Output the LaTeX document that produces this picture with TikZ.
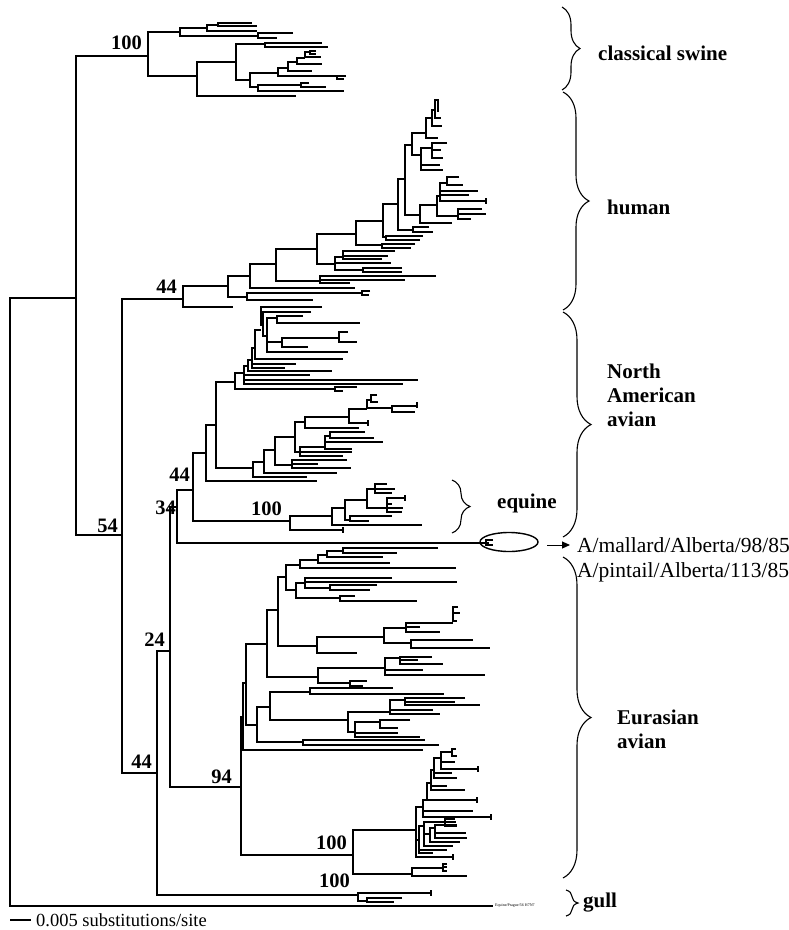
\documentclass[tikz,border=0pt]{standalone}
\usepackage{fontspec}
\setmainfont{Liberation Serif}
\usetikzlibrary{decorations.pathreplacing,arrows.meta,shapes.geometric}
\newcommand\brn[5]{\draw[br] (#3,#2) -| (#1,#4) -- (#5,#4);}
\newcommand\brh[3]{\draw[br] (#1,#2) -- (#3,#2);}
\newcommand\brt[2]{\draw[br] (#1,#2-3) -- (#1,#2+3);}
\begin{document}
\begin{tikzpicture}[x=1pt,y=-1pt,
  br/.style={line width=1.05pt},
  lab/.style={font=\fontsize{21}{24}\selectfont\bfseries, inner sep=0pt},
  bs/.style={font=\fontsize{20.5}{22}\selectfont\bfseries, inner sep=0pt, anchor=east},
  brc/.style={decorate, decoration={brace, amplitude=#1}, line width=1.1pt}]
\useasboundingbox (0,0) rectangle (789,930);
% root
\draw[br] (76,298) -- (10,298) -- (10,906) -- (493,906);
\brn{76}{56}{148}{535}{122}
\brn{122}{299}{183}{773}{157}
% classical swine
\brn{148}{32}{180}{76}{197}
\brn{180}{28}{207}{36}{258}
\brn{207}{25}{218}{31}{257}
\brn{218}{23}{252}{26}{257}
\brn{258}{33}{293}{38}{277}
\brn{197}{62}{236}{96}{296}
\brn{236}{44}{265}{80}{250}
\brn{265}{43}{322}{47}{328}
\brn{250}{73}{278}{87}{258}
\brn{278}{68}{288}{76}{337}
\brn{337}{76}{346}{79}{344}
\brn{288}{62}{297}{71}{312}
\brn{297}{58}{305}{64}{322}
\brn{305}{52}{310}{57}{321}
\brn{310}{51}{316}{54}{316}
\brn{258}{85}{301}{91}{344}
\brn{301}{83}{309}{87}{326}
% human
\brn{183}{286}{228}{307}{233}
\brn{228}{276}{250}{297}{247}
\brn{247}{293}{362}{300}{313}
\brn{362}{291}{370}{295}{369}
\brn{250}{264}{276}{288}{355}
\brn{276}{249}{317}{281}{320}
\brn{320}{276}{436}{283}{350}
\brh{320}{280}{405}
\brn{317}{234}{356}{264}{335}
\brn{335}{257}{343}{270}{363}
\brh{335}{263}{391}
\brn{343}{251}{395}{259}{382}
\brh{343}{256}{388}
\brn{363}{268}{402}{272}{402}
\brn{356}{221}{383}{245}{382}
\brn{382}{244}{415}{248}{411}
\brn{383}{204}{398}{237}{386}
\brn{386}{236}{423}{240}{420}
\brn{398}{179}{405}{230}{413}
\brn{413}{227}{429}{232}{433}
\brn{405}{145}{412}{215}{420}
\brn{420}{205}{437}{223}{452}
\brn{437}{196}{440}{216}{458}
\brn{458}{209}{482}{219}{471}
\brh{458}{214}{486}
\brn{440}{183}{447}{201}{486}
\brt{486}{201}
\brh{440}{195}{469}
\brh{440}{191}{478}
\brn{447}{177}{459}{185}{463}
\brn{412}{133}{426}{155}{421}
\brn{421}{148}{432}{170}{443}
\brh{421}{165}{440}
\brn{432}{143}{447}{158}{443}
\brh{432}{150}{441}
\brn{426}{118}{432}{138}{438}
\brn{432}{110}{435}{126}{442}
\brn{435}{100}{438}{118}{441}
\draw[br] (438,99) -- (438,112);
% North American avian
\brn{193}{453}{206}{521}{290}
\brn{206}{425}{216}{481}{317}
\brn{216}{382}{235}{468}{253}
\brn{235}{373}{244}{389}{335}
\brn{335}{387}{357}{391}{343}
\brn{244}{366}{248}{384}{403}
\brh{244}{380}{418}
\brh{244}{375}{310}
\brn{248}{360}{252}{371}{332}
\brn{252}{348}{255}{368}{285}
\brh{252}{364}{296}
\brn{255}{330}{261}{359}{343}
\brn{261}{307}{322}{325}{263}
\brn{263}{312}{311}{336}{267}
\brn{267}{318}{277}{352}{348}
\brh{267}{342}{282}
\brn{277}{316}{303}{323}{360}
\brn{282}{338}{339}{347}{308}
\brn{339}{332}{348}{342}{357}
\brn{253}{462}{264}{477}{307}
\brn{264}{450}{275}{473}{337}
\brn{275}{437}{295}{465}{292}
\brn{292}{460}{347}{468}{351}
\brh{292}{464}{318}
\brn{295}{422}{305}{452}{300}
\brn{300}{447}{325}{456}{343}
\brh{300}{452}{352}
\brn{325}{436}{330}{449}{352}
\brh{325}{442}{383}
\brn{330}{432}{365}{438}{374}
\brn{305}{417}{349}{428}{359}
\brn{349}{409}{367}{423}{368}
\brt{368}{423}
\brn{367}{400}{371}{408}{392}
\brn{371}{395}{377}{402}{378}
\brn{392}{406}{417}{412}{415}
\brt{417}{405}
% equine
\brn{290}{516}{332}{530}{343}
\brt{343}{530}
\brn{332}{508}{345}{525}{422}
\brn{345}{500}{367}{520}{350}
\brn{350}{516}{392}{521}{369}
\brn{367}{489}{375}{508}{387}
\brn{375}{484}{387}{493}{392}
\brh{375}{489}{395}
\brn{387}{498}{405}{512}{402}
\brh{387}{504}{392}
\brh{387}{508}{403}
\brt{405}{498}
% deep nodes
\brn{157}{651}{170}{895}{358}
\brn{170}{507}{177}{787}{241}
\brn{177}{490}{193}{543}{489}
\brn{486}{540}{493}{545}{493}
% Eurasian avian
\brn{241}{717}{243}{855}{353}
\brn{243}{683}{246}{750}{423}
\brn{246}{644}{267}{725}{257}
\brn{257}{707}{270}{742}{303}
\brn{303}{740}{425}{745}{439}
\brn{270}{692}{310}{720}{348}
\brn{310}{688}{393}{694}{444}
\brn{348}{712}{390}{732}{355}
\brn{390}{700}{405}{714}{440}
\brh{390}{710}{433}
\brn{405}{698}{465}{705}{480}
\brh{405}{702}{455}
\brn{355}{722}{380}{737}{420}
\brn{380}{720}{410}{728}{398}
\brh{355}{733}{398}
\brn{267}{610}{278}{677}{318}
\brn{318}{668}{385}{683}{350}
\brn{350}{681}{367}{686}{363}
\brn{385}{658}{400}{675}{485}
\brh{385}{670}{423}
\brn{400}{657}{432}{664}{443}
\brh{400}{660}{418}
\brn{278}{577}{286}{646}{317}
\brn{317}{637}{384}{653}{357}
\brn{384}{628}{406}{643}{411}
\brn{411}{640}{473}{648}{490}
\brn{406}{623}{453}{632}{440}
\brh{406}{627}{420}
\brn{453}{607}{458}{621}{457}
\brh{453}{613}{460}
\brn{286}{565}{300}{590}{296}
\brn{296}{583}{305}{598}{340}
\brn{305}{578}{392}{588}{330}
\brh{305}{582}{457}
\brn{330}{585}{377}{590}{370}
\brn{340}{596}{355}{601}{417}
\brn{300}{560}{318}{568}{456}
\brn{318}{555}{327}{563}{390}
\brn{327}{551}{343}{557}{383}
\brn{343}{548}{438}{553}{397}
% Eurasian 100 clade
\brn{353}{830}{416}{874}{412}
\brn{412}{868}{443}{876}{467}
\brn{443}{864}{447}{871}{447}
\brh{443}{867}{447}
\brn{416}{807}{423}{857}{453}
\brt{453}{857}
\brh{416}{840}{419}
\brn{419}{826}{424}{853}{433}
\brh{419}{850}{447}
\brn{424}{822}{445}{846}{453}
\brh{424}{834}{430}
\brn{430}{828}{435}{842}{460}
\brn{435}{825}{457}{838}{467}
\brh{435}{833}{466}
\brn{445}{819}{455}{826}{457}
\brh{445}{822}{456}
\brn{423}{800}{427}{817}{491}
\brh{423}{811}{473}
\brt{491}{817}
\brn{427}{783}{431}{800}{477}
\brt{477}{800}
\brn{431}{770}{434}{790}{465}
\brh{431}{786}{447}
\brn{434}{758}{441}{778}{457}
\brh{434}{773}{452}
\brn{441}{752}{452}{769}{478}
\brt{478}{769}
\brh{441}{762}{455}
\brn{452}{749}{456}{756}{457}
% gull
\brn{358}{893}{431}{901}{367}
\brt{431}{893}
\brn{367}{898}{402}{902}{394}
% ellipse, arrow, strain names
\node[draw, ellipse, minimum width=58pt, minimum height=19pt, line width=1.4pt, inner sep=0pt] (ell) at (509,542) {};
\node[anchor=west, font=\fontsize{21.5}{25}\selectfont, align=left, inner sep=0pt] (strains) at (577,560) {A/mallard/Alberta/98/85\\A/pintail/Alberta/113/85};
\coordinate (arrs) at (547,545);
\coordinate (arre) at (570,545);
\draw[line width=1pt, -{Triangle[length=8pt,width=7pt]}] (arrs) -- (arre);
% braces
\draw[brc=18] (562,7) -- (562,90);
\draw[brc=26] (563,92) -- (563,310);
\draw[brc=28] (563,312) -- (563,537);
\draw[brc=18] (452,480) -- (452,533);
\draw[brc=28] (563,557) -- (563,878);
\draw[brc=12] (566,890) -- (566,916);
% clade labels
\node[lab, anchor=west] (cs) at (598,53) {classical swine};
\node[lab, anchor=west] (hu) at (607,207) {human};
\node[lab, anchor=west, align=left] (na) at (607,395) {North\\American\\avian};
\node[lab, anchor=west] (eq) at (497,503) {equine};
\node[lab, anchor=west, align=left] (eu) at (617,729) {Eurasian\\avian};
\node[lab, anchor=west] (gu) at (583,903) {gull};
% bootstrap values
\node[bs] (b1) at (142,43) {100};
\node[bs] (b2) at (177,287) {44};
\node[bs] (b3) at (118,526) {54};
\node[bs] (b4) at (190,475) {44};
\node[bs] (b5) at (176,508) {34};
\node[bs] (b6) at (282,509) {100};
\node[bs] (b7) at (165,640) {24};
\node[bs] (b8) at (152,762) {44};
\node[bs] (b9) at (232,777) {94};
\node[bs] (b10) at (347,843) {100};
\node[bs] (b11) at (350,881) {100};
% outgroup tag and scale
\node[anchor=west, font=\fontsize{4}{5}\selectfont, inner sep=0pt] (og) at (495,906) {Equine/Prague/56 H7N7};
\coordinate (sc1) at (10,920);
\coordinate (sc2) at (31,920);
\draw[br] (sc1) -- (sc2);
\node[anchor=west, font=\fontsize{18.5}{20}\selectfont, inner sep=0pt] (scl) at (36,920) {0.005 substitutions/site};
\end{tikzpicture}
\end{document}
